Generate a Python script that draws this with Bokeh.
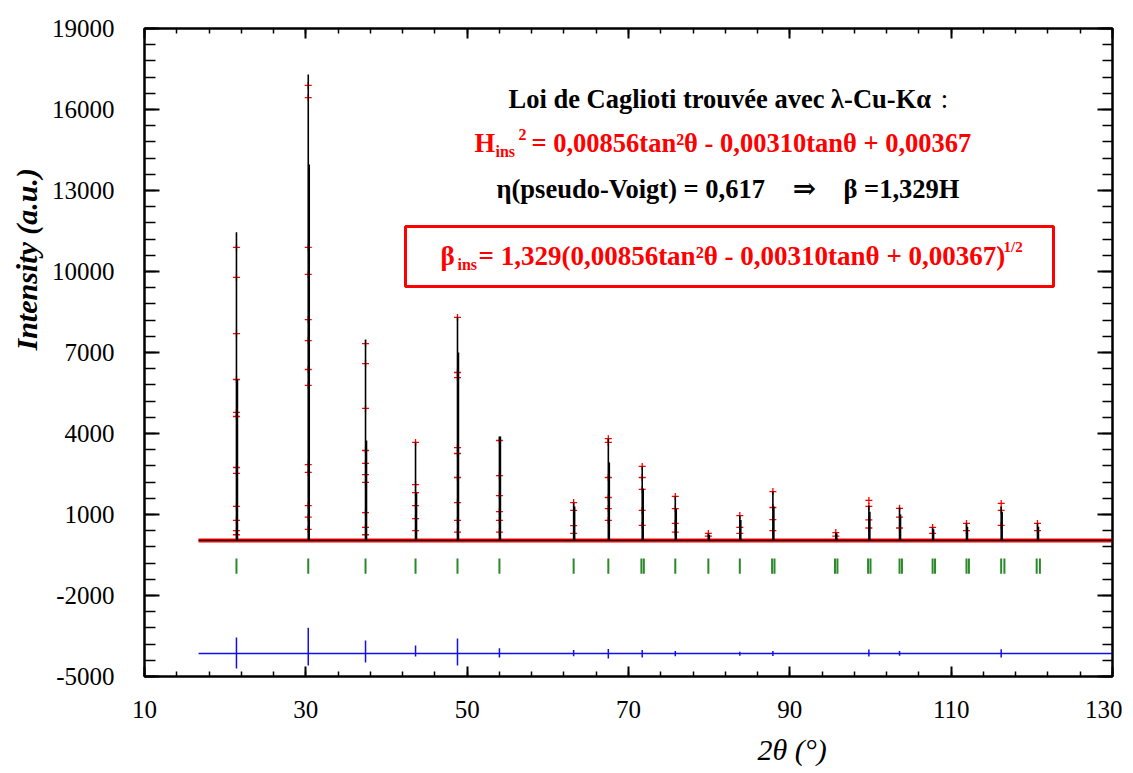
import math
from bokeh.plotting import figure
from bokeh.models import FixedTicker, LinearAxis, Label, BoxAnnotation, Title
from bokeh.embed import file_html
from bokeh.resources import INLINE

# ---------------- data ----------------
x_ticks = [10, 30, 50, 70, 90, 110, 130]
y_ticks = [-5000, -2000, 1000, 4000, 7000, 10000, 13000, 16000, 19000]
y_tick_text = {-5000: "-5000", -2000: "-2000"}
x_minor = list(range(10, 131, 4))
y_minor = list(range(-5000, 19001, 600))

scan_x = [16.7, 130.0]          # measured 2theta range
background = [40, 40]           # background level

# Bragg peaks: position (2theta), calculated top, height of the doubled (K-alpha2) lower part
peak_pos = [21.4, 30.3, 37.4, 43.6, 48.8, 54.0, 63.2, 67.5, 71.7, 75.8,
            79.9, 83.8, 87.9, 95.7, 99.8, 103.6, 107.7, 111.9, 116.2, 120.7]
calc_top = [11450, 17300, 7480, 3670, 8300, 3890, 1440, 3810, 2780, 1670,
            300, 960, 1850, 330, 1330, 1260, 520, 670, 1300, 670]
calc_shoulder = [6000, 13960, 3740, 1800, 7000, 3890, 1300, 2930, 1960, 1200,
                 250, 800, 1300, 300, 1100, 1000, 450, 550, 1100, 550]

# observed points (red crosses)
obs_x = ([21.4] * 12 + [30.3] * 13 + [37.4] * 10 + [43.6] * 6 + [48.8] * 9 +
         [54.0] * 6 + [63.2] * 4 + [67.5] * 6 + [71.7] * 5 + [75.8] * 4 +
         [79.9] * 2 + [83.8] * 3 + [87.9] * 4 + [95.7] * 2 + [99.8] * 4 +
         [103.6] * 3 + [107.7] * 2 + [111.9] * 2 + [116.2] * 3 + [120.7] * 2)
obs_y = ([10890, 9780, 7700, 6000, 4780, 4630, 2740, 2520, 1300, 780, 400, 250] +
         [16890, 16440, 10890, 9890, 8220, 7440, 6370, 5780, 2850, 2560, 1330, 900, 450] +
         [7330, 6590, 4930, 3370, 2890, 2480, 2190, 1070, 520, 250] +
         [3670, 2110, 1810, 1330, 850, 400] +
         [8300, 6260, 6070, 3480, 3260, 2370, 1440, 780, 350] +
         [3740, 2440, 1700, 1110, 780, 350] +
         [1440, 1150, 590, 300] +
         [3810, 3670, 2370, 1630, 1220, 780] +
         [2780, 2370, 1930, 1150, 600] +
         [1670, 1220, 670, 350] +
         [300, 200] +
         [960, 520, 300] +
         [1850, 1260, 810, 400] +
         [330, 200] +
         [1520, 1300, 800, 500] +
         [1230, 900, 500] +
         [520, 300] +
         [670, 400] +
         [1410, 1150, 600] +
         [670, 400])

# Bragg reflection markers (green ticks)
bragg_pos = [21.4, 30.3, 37.4, 43.6, 48.8, 54.0, 63.2, 67.5, 71.6, 71.9,
             75.8, 79.9, 83.8, 87.8, 88.1, 95.6, 95.9, 99.7, 100.0, 103.6,
             103.9, 107.7, 108.0, 111.9, 112.2, 116.2, 116.6, 120.6, 121.0]
bragg_top = -630
bragg_bottom = -1190

# difference curve (blue), offset
diff_level = [-4150, -4150]
diff_pos = [21.4, 30.3, 37.4, 43.6, 48.8, 54.0, 63.2, 67.5, 71.7, 75.8,
            83.8, 87.9, 99.8, 103.6, 116.2]
diff_hi = [-3560, -3190, -3670, -3850, -3590, -3950, -4020, -3980, -4020, -4060,
           -4080, -4060, -4000, -4060, -3990]
diff_lo = [-4700, -4590, -4480, -4260, -4590, -4300, -4250, -4330, -4300, -4250,
           -4230, -4240, -4260, -4230, -4300]

# ---------------- figure ----------------
X0, X1, Y0, Y1 = 10, 130, -5000, 19000
FL, FT, FW, FH = 144, 28, 968, 648   # frame position in the picture (px)


def px_x(px):
    return X0 + (px - FL) * (X1 - X0) / FW


def px_y(py):
    return Y0 + (FT + FH - py) * (Y1 - Y0) / FH


p = figure(frame_width=FW, frame_height=FH, x_range=(X0, X1), y_range=(Y0, Y1),
           output_backend="svg", toolbar_location=None,
           min_border_left=144, min_border_right=10, min_border_top=28,
           min_border_bottom=92, background_fill_color="white",
           border_fill_color="white")
p.grid.visible = False
p.outline_line_color = "black"
p.outline_line_width = 2

FONT = "Liberation Serif"


def style_axis(ax, ticks, minor, major_in, minor_in, labels=True):
    ax.ticker = FixedTicker(ticks=ticks, minor_ticks=minor)
    ax.axis_line_width = 2
    ax.axis_line_color = "black"
    ax.major_tick_in = major_in
    ax.major_tick_out = 0
    ax.minor_tick_in = minor_in
    ax.minor_tick_out = 0
    ax.major_tick_line_width = 2
    ax.minor_tick_line_width = 1.5
    ax.major_tick_line_color = "black"
    ax.minor_tick_line_color = "black"
    if labels:
        ax.major_label_text_font = FONT
        ax.major_label_text_font_size = "25px"
        ax.major_label_text_color = "black"
    else:
        ax.major_label_text_color = None
        ax.major_label_text_font_size = "1px"
        ax.major_label_standoff = 0


style_axis(p.xaxis[0], x_ticks, x_minor, 10, 5)
p.xaxis[0].major_label_standoff = 24
style_axis(p.yaxis[0], y_ticks, y_minor, 15, 11)
p.yaxis[0].major_label_standoff = 30
p.yaxis[0].major_label_overrides = y_tick_text

top_ax = LinearAxis()
style_axis(top_ax, x_ticks, x_minor, 10, 5, labels=False)
p.add_layout(top_ax, "above")
right_ax = LinearAxis()
style_axis(right_ax, y_ticks, y_minor, 15, 10, labels=False)
p.add_layout(right_ax, "right")

# axis titles (side titles anchored off-centre like the original)
p.add_layout(Title(text="Intensity (a.u.)", align="left", offset=326,
                   text_font=FONT, text_font_size="30px",
                   text_font_style="bold italic", text_color="black",
                   standoff=12), "left")
p.add_layout(Title(text="2θ (°)", align="left", offset=613,
                   text_font=FONT, text_font_size="30px",
                   text_font_style="italic", text_color="black",
                   standoff=20), "below")

# observed background (dense red crosses) and calculated profile
p.line(scan_x, background, line_color="red", line_width=4)
p.scatter(obs_x, obs_y, marker="cross", size=7, line_color="red", line_width=1.3)
p.line(scan_x, background, line_color="black", line_width=1.3)
p.segment(x0=peak_pos, y0=[background[0]] * len(peak_pos), x1=peak_pos, y1=calc_top,
          line_color="black", line_width=1.6)
p.segment(x0=[v + 0.12 for v in peak_pos], y0=[background[0]] * len(peak_pos),
          x1=[v + 0.12 for v in peak_pos], y1=calc_shoulder,
          line_color="black", line_width=1.6)

# Bragg positions
p.segment(x0=bragg_pos, y0=[bragg_top] * len(bragg_pos), x1=bragg_pos,
          y1=[bragg_bottom] * len(bragg_pos), line_color="#2a8a2a", line_width=2)

# difference curve
p.line(scan_x, diff_level, line_color="#1010ee", line_width=1.5)
p.segment(x0=diff_pos, y0=diff_lo, x1=diff_pos, y1=diff_hi,
          line_color="#1010ee", line_width=1.5)

# ---------------- texts ----------------
BIG = "26.5px"
SMALL = "16px"


def add_text(px, py, text, color="black", size=BIG, align="left", style="bold",
             font=FONT):
    p.add_layout(Label(x=px_x(px), y=px_y(py), text=text, text_color=color,
                       text_font=font, text_font_size=size, text_font_style=style,
                       text_align=align, text_baseline="middle"))


add_text(508, 98, "Loi de Caglioti trouvée avec λ-Cu-Kα")
add_text(944, 98, ":", style="normal", align="center")

add_text(474, 142, "H", color="red")
add_text(495, 151, "ins", color="red", size=SMALL)
add_text(518, 134, "2", color="red", size=SMALL)
add_text(531, 142, "= 0,00856tan²θ - 0,00310tanθ + 0,00367", color="red")

add_text(496, 188, "η(pseudo-Voigt) = 0,617")
add_text(804, 188, "⇒", align="center", font="DejaVu Serif", size="28px")
add_text(843, 188, "β =1,329H")

p.add_layout(BoxAnnotation(left=px_x(405), right=px_x(1053), top=px_y(226),
                           bottom=px_y(286), fill_color=None, fill_alpha=0,
                           line_color="red", line_alpha=1.0, line_width=3))
add_text(440, 255, "β", color="red", size="27px")
add_text(457, 264, "ins", color="red", size=SMALL)
add_text(478, 255, "= 1,329(0,00856tan²θ - 0,00310tanθ + 0,00367)", color="red",
         size="27px")
add_text(1003, 246, "1/2", color="red", size="15px")

open("out.html", "w").write(file_html(p, INLINE))
